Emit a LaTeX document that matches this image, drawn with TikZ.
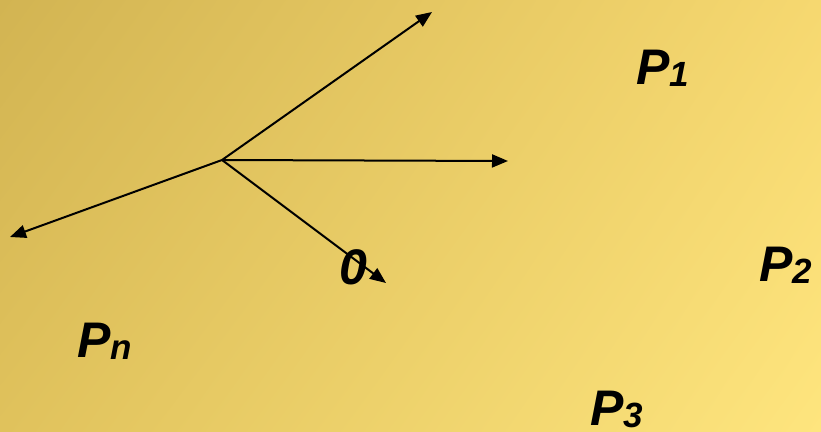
\documentclass[tikz,border=0pt]{standalone}
\usepackage{fontspec}
\setmainfont{Liberation Sans}
\usetikzlibrary{arrows.meta,shadings}

\definecolor{bgTL}{RGB}{210,180,82}
\definecolor{bgTR}{RGB}{246,216,112}
\definecolor{bgBL}{RGB}{224,194,92}
\definecolor{bgBR}{RGB}{254,229,126}

\newcommand{\psub}[1]{P\raisebox{-2pt}{\fontsize{35}{35}\selectfont #1}}

\tikzset{every picture/.style={line width=0.75pt}}

\begin{document}
\begin{tikzpicture}[
            x=1pt,
            y=1pt,
            yscale=-1,
            xscale=1,
            every node/.style={text=black},
            ray/.style={draw=black,line width=2pt,-{Triangle[length=16pt,width=13pt]}},
            plabel/.style={font=\fontsize{50}{50}\selectfont\bfseries\itshape,inner sep=0pt,anchor=base west}
        ]
            \useasboundingbox (0,0) rectangle (821,431);
            \shade [upper left=bgTL,upper right=bgTR,lower left=bgBL,lower right=bgBR] (0,0) rectangle (821,431);
            % rays from the origin
            \coordinate (orig) at (222,160);
            \coordinate (r1) at (432,12);
            \coordinate (r2) at (508,161);
            \coordinate (r3) at (386,283);
            \coordinate (rn) at (10,237);
            \draw [ray] (orig) -- (r1);
            \draw [ray] (orig) -- (r2);
            \draw [ray] (orig) -- (r3);
            \draw [ray] (orig) -- (rn);
            % labels
            \node [plabel] (lo) at (339,284) {0};
            \node [plabel] (l1) at (636,84) {\psub{1}};
            \node [plabel] (l2) at (759,281) {\psub{2}};
            \node [plabel] (l3) at (590,425) {\psub{3}};
            \node [plabel] (ln) at (77,357) {\psub{n}};
        \end{tikzpicture}
\end{document}
